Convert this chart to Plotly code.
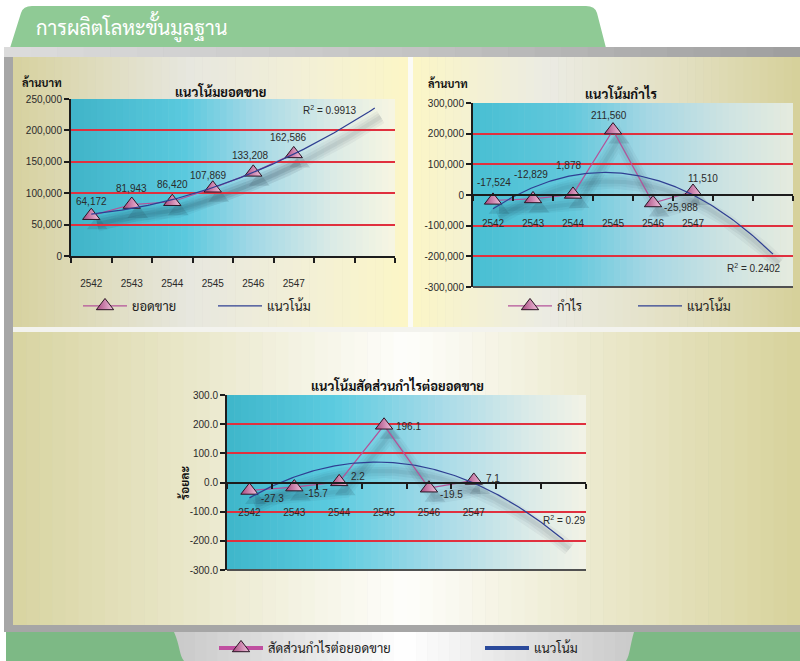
import numpy as np
import plotly.graph_objects as go

W, H = 800, 661

# ---------------- data ----------------
years = [2542, 2543, 2544, 2545, 2546, 2547]
year_labels = ["2542", "2543", "2544", "2545", "2546", "2547"]
forecast_years = [2548, 2549]   # trendline forecast periods (empty categories)

sales = [64172, 81943, 86420, 107869, 133208, 162586]
sales_labels = ["64,172", "81,943", "86,420", "107,869", "133,208", "162,586"]
profit = [-17524, -12829, 1878, 211560, -25988, 11510]
profit_labels = ["-17,524", "-12,829", "1,878", "211,560", "-25,988", "11,510"]
ratio = [-27.3, -15.7, 2.2, 196.1, -19.5, 7.1]
ratio_labels = ["-27.3", "-15.7", "2.2", "196.1", "-19.5", "7.1"]

sales_ticks = [0, 50000, 100000, 150000, 200000, 250000]
sales_ticktext = ["0", "50,000", "100,000", "150,000", "200,000", "250,000"]
profit_ticks = [-300000, -200000, -100000, 0, 100000, 200000, 300000]
profit_ticktext = ["-300,000", "-200,000", "-100,000", "0", "100,000", "200,000", "300,000"]
ratio_ticks = [-300, -200, -100, 0, 100, 200, 300]
ratio_ticktext = ["-300.0", "-200.0", "-100.0", "0.0", "100.0", "200.0", "300.0"]

r2_sales = "0.9913"
r2_profit = "0.2402"
r2_ratio = "0.29"

main_title = "การผลิตโลหะขั้นมูลฐาน"
titles = ["แนวโน้มยอดขาย", "แนวโน้มกำไร", "แนวโน้มสัดส่วนกำไรต่อยอดขาย"]
series_names = ["ยอดขาย", "กำไร", "สัดส่วนกำไรต่อยอดขาย"]
trend_name = "แนวโน้ม"
unit_mb = "ล้านบาท"
unit_pct = "ร้อยละ"

# ---------------- styling ----------------
NUM_FONT = "Liberation Sans, Arial, sans-serif"
THAI_FONT = "Sarabun, Loma, sans-serif"
PINK = "#b4529a"
BLUE = "#2f3f92"
GRID = "#e0303e"
AXIS = "#1c1c1c"


def px(x):
    return x / W


def py(y):
    return 1 - y / H


def hex2rgb(h):
    h = h.lstrip("#")
    return [int(h[i:i + 2], 16) for i in (0, 2, 4)]


def interp(stops, t):
    for (t0, c0), (t1, c1) in zip(stops[:-1], stops[1:]):
        if t0 <= t <= t1:
            f = 0 if t1 == t0 else (t - t0) / (t1 - t0)
            a, b = hex2rgb(c0), hex2rgb(c1)
            return "rgb(%d,%d,%d)" % tuple(round(a[i] + (b[i] - a[i]) * f) for i in range(3))
    return stops[-1][1]


shapes = []


def rect(x0, y0, x1, y1, color, layer="below"):
    shapes.append(dict(type="rect", xref="paper", yref="paper", x0=px(x0), x1=px(x1),
                       y0=py(y1), y1=py(y0), fillcolor=color, line=dict(width=0), layer=layer))


def hgrad(x0, y0, x1, y1, stops, n=48):
    w = (x1 - x0) / n
    for i in range(n):
        c = interp(stops, (i + 0.5) / n)
        rect(x0 + i * w, y0, min(x1, x0 + (i + 1) * w + 0.6), y1, c)


def path(points_cmds, color, layer="below"):
    s = ""
    for cmd, pts in points_cmds:
        s += cmd + " ".join("%.5f,%.5f" % (px(a), py(b)) for a, b in pts) + " "
    shapes.append(dict(type="path", xref="paper", yref="paper", path=s + "Z",
                       fillcolor=color, line=dict(width=0), layer=layer))


# ---------------- decoration ----------------
# green tab with title
path([("M", [(10, 48)]), ("L", [(21, 13)]), ("Q", [(23, 6), (32, 6)]), ("L", [(586, 6)]),
      ("Q", [(595, 6), (597, 13)]), ("L", [(606, 48)])], "#8fca95")
# gray frame
rect(4, 47, 800, 632, "#a6a6a6")
hgrad(4, 47, 800, 57, [(0, "#dcdcdc"), (0.5, "#c4c4c4"), (1, "#9e9e9e")], n=30)
# panels
hgrad(13, 57, 408, 327, [(0, "#d7d29f"), (0.45, "#e7e7df"), (0.75, "#f3f0d6"), (1, "#fcf6c6")])
hgrad(413, 57, 800, 327, [(0, "#fcf6c6"), (0.35, "#ebebe3"), (0.7, "#e2dfc0"), (1, "#d6d19a")])
rect(408, 57, 413, 327, "#fbfbf6")
rect(13, 327, 800, 332, "#f3f3ee")
hgrad(13, 332, 800, 625, [(0, "#d8d4a1"), (0.5, "#fefefb"), (1, "#d7d29b")], n=60)
# bottom green + legend tab
rect(6, 632, 800, 661, "#7db985")
path([("M", [(174, 632)]), ("C", [(180, 645), (179, 655), (184, 661)]), ("L", [(626, 661)]),
      ("C", [(630, 655), (630, 645), (634, 632)])], "#cbcbcb")
hgrad(184, 632, 626, 661, [(0, "#cbcbcb"), (0.3, "#e9e9e9"), (0.5, "#ffffff"),
                            (0.75, "#e4e4e4"), (1, "#cbcbcb")], n=40)

# ---------------- charts ----------------
charts = [
    dict(vals=sales, labels=sales_labels, ticks=sales_ticks, ticktext=sales_ticktext,
         rng=[0, 250000], grid=[50000, 100000, 150000, 200000, 250000],
         box=(71, 99, 395, 256), r2=r2_sales, r2pos=(330, 110), title_pos=(220, 91),
         unit=unit_mb, unit_pos=(42, 82), free=False, standoff=17,
         lab_dx=[0, 0, 0, -4, -3, -5], lab_dy=[14, 16, 17, 13, 17, 16],
         bg=[(0, "#40b4c8"), (0.35, "#5ac9de"), (0.55, "#9fd7e6"), (0.8, "#d9eae6"), (1, "#f8f6e2")],
         legend="legend", leg_x=78, leg_y=306, entry=76),
    dict(vals=profit, labels=profit_labels, ticks=profit_ticks, ticktext=profit_ticktext,
         rng=[-300000, 300000], grid=[-200000, -100000, 100000, 200000, 300000],
         box=(473, 103, 793, 287), r2=r2_profit, r2pos=(754, 268), title_pos=(621, 93),
         unit=unit_mb, unit_pos=(448, 83), free=True, standoff=19,
         lab_dx=[1, -2, -5, -4, 28, 10], lab_dy=[18, 24, 29, 15, -5, 13],
         bg=[(0, "#48bfd3"), (0.3, "#62c8dc"), (0.55, "#a6d7e4"), (0.8, "#cfe4e2"), (1, "#e5ebdf")],
         legend="legend2", leg_x=503, leg_y=306, entry=71),
    dict(vals=ratio, labels=ratio_labels, ticks=ratio_ticks, ticktext=ratio_ticktext,
         rng=[-300, 300], grid=[-200, -100, 100, 200],
         box=(227, 395, 586, 570), r2=r2_ratio, r2pos=(564, 520), title_pos=(397, 385),
         unit=unit_pct, unit_pos=(184, 483), free=True, standoff=20,
         lab_dx=[23, 22, 19, 24, 23, 19], lab_dy=[-8, -6, 5, -1, -6, 2],
         bg=[(0, "#3eb6ca"), (0.3, "#5ccbe0"), (0.6, "#a9dbe8"), (0.85, "#dcebe8"), (1, "#f3f2e6")],
         legend="legend3", leg_x=214, leg_y=648, entry=207),
]

all_years = years + forecast_years
boundaries = [y - 0.5 for y in all_years] + [all_years[-1] + 0.5]
xrange_ = [boundaries[0], boundaries[-1]]

fig = go.Figure()
layout = dict(width=W, height=H, margin=dict(l=0, r=0, t=0, b=0, autoexpand=False), paper_bgcolor="white",
              plot_bgcolor="rgba(0,0,0,0)", showlegend=True)
annotations = []


def ax_key(kind, n):
    return kind + ("axis" if n == 1 else "axis%d" % n)


def ref(kind, n):
    return kind + ("" if n == 1 else str(n))


def trend(values):
    t = np.arange(1, len(values) + 1)
    coef = np.polyfit(t, values, 2)
    tt = np.linspace(1, len(all_years), 141)
    return [years[0] + v - 1 for v in tt], np.polyval(coef, tt)


def paper_text(x, y, text, font, **kw):
    d = dict(x=px(x), y=py(y), xref="paper", yref="paper", text=text, showarrow=False,
             xanchor="center", yanchor="middle", font=font)
    d.update(kw)
    annotations.append(d)


SHX, SHY = 6, 9   # shadow offset in px
MARKER = dict(symbol="triangle-up", size=15, color="#a8487f",
              gradient=dict(type="horizontal", color="#f2c4de"),
              line=dict(color="#2a1424", width=1))

for i, c in enumerate(charts):
    x0, y0, x1, y1 = c["box"]
    hgrad(x0, y0, x1, y1, c["bg"], n=50)
    s_id, m_id = i + 1, i + 4
    tx, ty = trend(c["vals"])

    # shadow axes (shifted domain)
    layout[ax_key("x", s_id)] = dict(domain=[px(x0 + SHX), px(x1 + SHX)], range=xrange_, visible=False,
                                     anchor=ref("y", s_id))
    layout[ax_key("y", s_id)] = dict(domain=[py(y1 + SHY), py(y0 + SHY)], range=c["rng"], visible=False,
                                     anchor=ref("x", s_id))
    for wdt, op in [(14, 0.045), (9, 0.055), (4, 0.06)]:
        fig.add_trace(go.Scatter(x=tx, y=ty, mode="lines", line=dict(color="rgba(20,30,50,%.3f)" % op, width=wdt),
                                 xaxis=ref("x", s_id), yaxis=ref("y", s_id), showlegend=False, hoverinfo="skip"))
        fig.add_trace(go.Scatter(x=years, y=c["vals"], mode="lines", line=dict(color="rgba(20,30,50,%.3f)" % op, width=wdt),
                                 xaxis=ref("x", s_id), yaxis=ref("y", s_id), showlegend=False, hoverinfo="skip"))
    fig.add_trace(go.Scatter(x=years, y=c["vals"], mode="markers",
                             marker=dict(symbol="triangle-up", size=18, color="rgba(20,30,50,0.12)", line=dict(width=0)),
                             xaxis=ref("x", s_id), yaxis=ref("y", s_id), showlegend=False, hoverinfo="skip"))

    # main axes
    ydom = [py(y1), py(y0)]
    xa = dict(domain=[px(x0), px(x1)], range=xrange_, tickvals=years, ticktext=year_labels,
              ticks="", showgrid=False, zeroline=False, showline=True, linecolor=AXIS, linewidth=2,
              minor=dict(tickvals=boundaries, ticks="outside", ticklen=5, tickwidth=1.5,
                         tickcolor=AXIS, showgrid=False),
              ticklabelstandoff=c["standoff"], tickfont=dict(family=NUM_FONT, size=10, color="#2a2a2a"))
    if c["free"]:
        xa.update(anchor="free", position=(ydom[0] + ydom[1]) / 2)
    else:
        xa.update(anchor=ref("y", m_id))
    layout[ax_key("x", m_id)] = xa
    layout[ax_key("y", m_id)] = dict(domain=ydom, range=c["rng"], tickvals=c["ticks"], ticktext=c["ticktext"],
                                     ticks="outside", ticklen=5, tickwidth=1.5, tickcolor=AXIS,
                                     showline=True, linecolor=AXIS, linewidth=2, showgrid=False, zeroline=False,
                                     minor=dict(tickvals=c["grid"], showgrid=True, gridcolor=GRID, gridwidth=1.6,
                                                ticks=""),
                                     anchor=ref("x", m_id),
                                     tickfont=dict(family=NUM_FONT, size=10, color="#2a2a2a"))
    if c["free"]:
        shapes.append(dict(type="line", xref="paper", yref="paper", x0=px(x0), x1=px(x1), y0=py(y1), y1=py(y1),
                           line=dict(color="#505050", width=2), layer="above"))

    is_last = i == 2
    fig.add_trace(go.Scatter(x=years, y=c["vals"], mode="lines+markers", name=series_names[i],
                             line=dict(color=PINK, width=1.2), marker=MARKER,
                             xaxis=ref("x", m_id), yaxis=ref("y", m_id), legend=c["legend"],
                             showlegend=not is_last, hoverinfo="skip"))
    fig.add_trace(go.Scatter(x=tx, y=ty, mode="lines", name=trend_name, line=dict(color=BLUE, width=1.2),
                             xaxis=ref("x", m_id), yaxis=ref("y", m_id), legend=c["legend"],
                             showlegend=not is_last, hoverinfo="skip"))
    if is_last:
        fig.add_trace(go.Scatter(x=[None], y=[None], mode="lines+markers", name=series_names[i],
                                 line=dict(color="#c04fa0", width=4), marker=MARKER,
                                 xaxis=ref("x", m_id), yaxis=ref("y", m_id), legend=c["legend"]))
        fig.add_trace(go.Scatter(x=[None], y=[None], mode="lines", name=trend_name,
                                 line=dict(color="#2b4a9b", width=4),
                                 xaxis=ref("x", m_id), yaxis=ref("y", m_id), legend=c["legend"]))

    layout[c["legend"]] = dict(x=px(c["leg_x"]), y=py(c["leg_y"]), xanchor="left", yanchor="middle",
                               orientation="h", bgcolor="rgba(0,0,0,0)", itemwidth=44,
                               entrywidth=c["entry"], font=dict(family=THAI_FONT, size=13, color="#222"))

    # data labels
    for k, (yr, v, lab) in enumerate(zip(years, c["vals"], c["labels"])):
        annotations.append(dict(x=yr, y=v, xref=ref("x", m_id), yref=ref("y", m_id), text=lab,
                                showarrow=False, xshift=c["lab_dx"][k], yshift=c["lab_dy"][k],
                                xanchor="center", yanchor="middle",
                                font=dict(family=NUM_FONT, size=10, color="#2a2a2a")))
    # title, unit, R2
    paper_text(*c["title_pos"], "<b>%s</b>" % titles[i], dict(family=THAI_FONT, size=13, color="#111"))
    paper_text(*c["unit_pos"], "<b>%s</b>" % c["unit"], dict(family=THAI_FONT, size=11 if i < 2 else 12, color="#111"),
               textangle=-90 if c["unit"] == unit_pct else 0)
    paper_text(*c["r2pos"], "R<sup>2</sup> = %s" % c["r2"], dict(family=NUM_FONT, size=10, color="#2a2a2a"))

paper_text(34, 27, main_title, dict(family=THAI_FONT, size=20, color="white"), xanchor="left")

layout["shapes"] = shapes
layout["annotations"] = annotations
fig.update_layout(**layout)
fig.write_html("out.html", config={"displayModeBar": False},
               post_script="document.body.style.margin='0';document.body.style.overflow='hidden';")
